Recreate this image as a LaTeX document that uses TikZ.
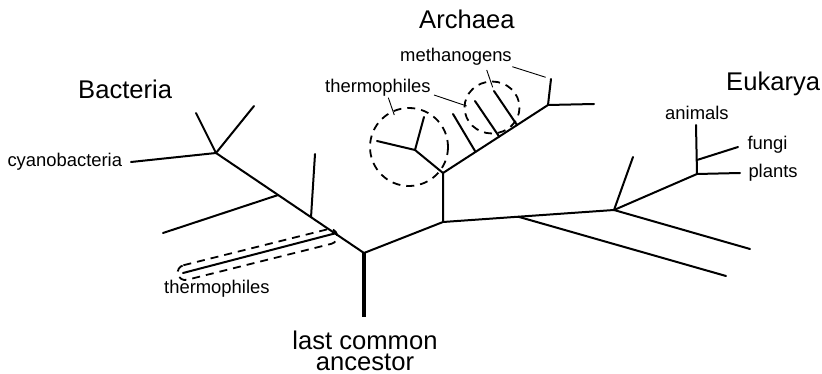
\documentclass[tikz,border=0pt]{standalone}
\usepackage{fontspec}
\setmainfont{Liberation Sans}
\usetikzlibrary{calc}
\begin{document}
\begin{tikzpicture}[x=1pt,y=-1pt,
  br/.style={line width=2pt, line cap=round},
  trunk/.style={line width=4pt},
  lead/.style={line width=0.9pt},
  ring/.style={line width=1.8pt, dash pattern=on 8pt off 6pt},
  small/.style={font=\fontsize{18.4}{22}\selectfont, inner sep=0pt, anchor=base west},
  big/.style={font=\fontsize{25.6}{20.4}\selectfont, inner sep=0pt, anchor=base west}]
\useasboundingbox (0,0) rectangle (822,374);
% ---- root
\coordinate (root) at (364,253);
\coordinate (lcaend) at (364,317);
% ---- bacteria
\coordinate (b4) at (216,153);
\coordinate (b1) at ($(root)!0.196!(b4)$);
\coordinate (b2) at ($(root)!0.358!(b4)$);
\coordinate (b3) at ($(root)!0.58!(b4)$);
\coordinate (bt) at (183,273);
\coordinate (b2t) at (315,154);
\coordinate (b3t) at (163,233);
\coordinate (b4a) at (196,113);
\coordinate (b4b) at (254,106);
\coordinate (cyan) at (131,162);
% ---- archaea
\coordinate (a0) at (443,222);
\coordinate (a1) at (443,173);
\coordinate (a2) at (415,150);
\coordinate (a2a) at (377,141);
\coordinate (a2b) at (424,117);
\coordinate (a3) at (548,105);
\coordinate (m1) at ($(a1)!0.31!(a3)$);
\coordinate (m2) at ($(a1)!0.535!(a3)$);
\coordinate (m3) at ($(a1)!0.705!(a3)$);
\coordinate (m1t) at (453,114);
\coordinate (m2t) at (475,101);
\coordinate (m3t) at (494,91);
\coordinate (a3a) at (551,79);
\coordinate (a3b) at (594,104);
% ---- eukarya
\coordinate (e2) at (614,210);
\coordinate (e1) at ($(a0)!0.44!(e2)$);
\coordinate (e1t) at (726,276);
\coordinate (e2a) at (633,157);
\coordinate (e2b) at (750,249);
\coordinate (e3) at (697,174);
\coordinate (ean) at (696,125);
\coordinate (efj) at (697,160);
\coordinate (efjt) at (738,147);
\coordinate (epl) at (740,173);

% trunk
\draw[trunk] (root) -- (lcaend);
% bacteria
\draw[br] (root) -- (b4);
\draw[br] (b1) -- (bt);
\draw[br] (b2) -- (b2t);
\draw[br] (b3) -- (b3t);
\draw[br] (b4) -- (b4a);
\draw[br] (b4) -- (b4b);
\draw[br] (b4) -- (cyan);
% archaea
\draw[br] (root) -- (a0) -- (a1) -- (a3);
\draw[br] (a1) -- (a2) -- (a2a);
\draw[br] (a2) -- (a2b);
\draw[br] (m1) -- (m1t);
\draw[br] (m2) -- (m2t);
\draw[br] (m3) -- (m3t);
\draw[br] (a3) -- (a3a);
\draw[br] (a3) -- (a3b);
% eukarya
\draw[br] (a0) -- (e2);
\draw[br] (e1) -- (e1t);
\draw[br] (e2) -- (e2a);
\draw[br] (e2) -- (e2b);
\draw[br] (e2) -- (e3);
\draw[br] (e3) -- (ean);
\draw[br] (efj) -- (efjt);
\draw[br] (e3) -- (epl);

% dashed groups
\begin{scope}[shift={(257.5,254.5)}, rotate=14]
  \draw[ring, rounded corners=7.5pt] (-82,-7.5) -- (82,-7.5) -- (82,7.5) -- (-82,7.5) -- cycle;
\end{scope}
\draw[ring] (409,147) circle[radius=39];
\draw[ring] (492,107.5) ellipse[x radius=27.5, y radius=26];

% labels
\node[big] (bac) at (78,99) {Bacteria};
\node[big] (arc) at (419,28.3) {Archaea};
\node[big] (euk) at (726,90.7) {Eukarya};
\node[small] (cy) at (7.3,166.7) {cyanobacteria};
\node[small] (thb) at (164,293.3) {thermophiles};
\node[small] (tha) at (325,92.7) {thermophiles};
\node[small] (met) at (400,61.7) {methanogens};
\node[small] (ani) at (665,119.3) {animals};
\node[small] (fun) at (747.3,150) {fungi};
\node[small] (pla) at (748.3,177.7) {plants};
\node[font=\fontsize{25.6}{20.4}\selectfont, align=center, anchor=north, inner sep=0pt] (lca) at (365,331) {last common\\ancestor};

% leader lines
\coordinate (t1a) at (388.3,97.7);
\coordinate (t1b) at (394.3,115);
\coordinate (t2a) at (434,95);
\coordinate (t2b) at (466.7,106);
\coordinate (n1a) at (486.7,70);
\coordinate (n1b) at (492.7,87.3);
\coordinate (n2a) at (512.3,66.7);
\coordinate (n2b) at (545.7,77.3);
\draw[lead] (t1a) -- (t1b);
\draw[lead] (t2a) -- (t2b);
\draw[lead] (n1a) -- (n1b);
\draw[lead] (n2a) -- (n2b);
\end{tikzpicture}
\end{document}
